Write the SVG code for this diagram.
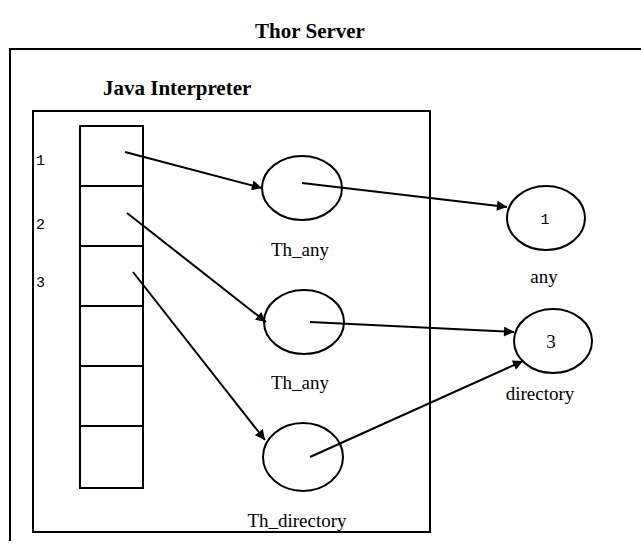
<svg xmlns="http://www.w3.org/2000/svg" width="641" height="546" viewBox="0 0 641 546">
<style>
.ln{fill:none;stroke:#000;stroke-width:2}
.sr{font-family:"Liberation Serif",serif;font-size:19px;fill:#000}
.b{font-weight:bold;font-size:21px}
.mono{font-family:"Liberation Mono",monospace;font-size:15px;fill:#000}
.c{text-anchor:middle}
</style>
<defs>
<marker id="ah" viewBox="0 0 10 10" refX="10" refY="5" markerWidth="17" markerHeight="10" markerUnits="userSpaceOnUse" orient="auto">
<path d="M0,0 L10,5 L0,10 z" fill="#000"/>
</marker>
</defs>
<rect width="641" height="546" fill="#fff"/>
<text class="sr b c" x="310" y="38">Thor Server</text>
<g id="thor-server"><path class="ln" d="M10,541 V49 H641"/></g>
<g id="java-interpreter">
<rect class="ln" x="33" y="111" width="397" height="421"/>
<text class="sr b" x="103" y="95">Java Interpreter</text>
</g>
<g id="stack">
<rect class="ln" x="80" y="126" width="63" height="362"/>
<path class="ln" d="M80,186 H143 M80,246 H143 M80,306 H143 M80,366 H143 M80,426 H143"/>
<text class="mono" x="36" y="165">1</text>
<text class="mono" x="36" y="229">2</text>
<text class="mono" x="36" y="287">3</text>
</g>
<g id="th-any-1"><ellipse class="ln" cx="302" cy="188" rx="40" ry="32"/><text class="sr c" x="300" y="256">Th_any</text></g>
<g id="th-any-2"><ellipse class="ln" cx="304" cy="322" rx="40" ry="32"/><text class="sr c" x="300" y="389">Th_any</text></g>
<g id="th-directory"><ellipse class="ln" cx="303" cy="457" rx="40" ry="34"/><text class="sr c" x="297" y="527">Th_directory</text></g>
<g id="any"><ellipse class="ln" cx="546" cy="218" rx="39" ry="32"/><text class="mono c" x="545" y="224">1</text><text class="sr c" x="544" y="283">any</text></g>
<g id="directory"><ellipse class="ln" cx="553" cy="341" rx="39" ry="32"/><text class="sr c" x="551" y="348">3</text><text class="sr c" x="540" y="400">directory</text></g>
<g id="connectors">
<line class="ln" x1="125" y1="152" x2="262" y2="188" marker-end="url(#ah)"/>
<line class="ln" x1="127" y1="213" x2="266" y2="322" marker-end="url(#ah)"/>
<line class="ln" x1="133" y1="272" x2="265" y2="440" marker-end="url(#ah)"/>
<line class="ln" x1="302" y1="183" x2="507" y2="207" marker-end="url(#ah)"/>
<line class="ln" x1="310" y1="322" x2="514" y2="332" marker-end="url(#ah)"/>
<line class="ln" x1="310" y1="457" x2="523" y2="361" marker-end="url(#ah)"/>
</g>
</svg>
